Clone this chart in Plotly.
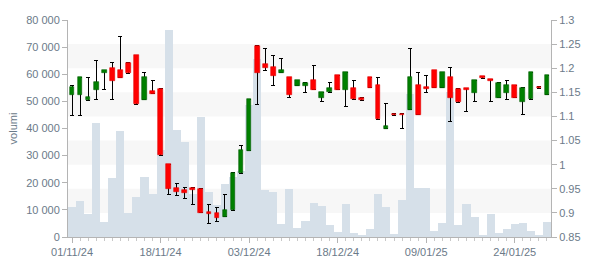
import plotly.graph_objects as go

dates = ["01/11/24","04/11/24","05/11/24","06/11/24","07/11/24","08/11/24","11/11/24","12/11/24","13/11/24","14/11/24",
         "15/11/24","18/11/24","19/11/24","20/11/24","21/11/24","22/11/24","25/11/24","26/11/24","27/11/24","28/11/24",
         "29/11/24","02/12/24","03/12/24","04/12/24","05/12/24","06/12/24","09/12/24","10/12/24","11/12/24","12/12/24",
         "13/12/24","16/12/24","17/12/24","18/12/24","19/12/24","20/12/24","23/12/24","27/12/24","30/12/24","02/01/25",
         "03/01/25","06/01/25","07/01/25","08/01/25","09/01/25","10/01/25","13/01/25","14/01/25","15/01/25","16/01/25",
         "17/01/25","20/01/25","21/01/25","22/01/25","23/01/25","24/01/25","27/01/25","28/01/25","29/01/25","30/01/25"]

volumes = [10900,13100,8400,42200,5500,21800,38900,8700,14900,22200,
           16000,32000,76400,39600,34900,16000,44400,16700,11800,19600,
           22000,24500,48500,65500,17200,16700,4700,17800,3400,5800,
           12400,11600,4400,1800,12000,1500,400,2900,16000,10900,
           1100,13500,52700,18200,18200,2200,5100,53300,4400,12000,
           7300,400,8400,1500,2900,4700,5100,2200,700,5500]

opens = [1.145,1.145,1.134,1.155,1.190,1.201,1.196,1.211,1.227,1.135,
         1.153,1.157,1.001,0.952,0.948,0.952,0.949,0.901,0.899,0.892,
         0.906,0.982,1.029,1.247,1.209,1.202,1.191,1.181,1.164,1.164,
         1.175,1.139,1.150,1.185,1.155,1.160,1.138,1.181,1.165,1.074,
         1.106,1.106,1.114,1.165,1.162,1.196,1.160,1.181,1.157,1.158,
         1.149,1.183,1.177,1.139,1.149,1.165,1.129,1.136,1.162,1.145]
highs = [1.165,1.181,1.181,1.216,1.196,1.211,1.265,1.211,1.227,1.192,
         1.175,1.157,1.001,0.960,0.952,0.953,0.950,0.917,0.911,0.939,
         0.983,1.040,1.136,1.247,1.240,1.226,1.220,1.181,1.175,1.170,
         1.205,1.150,1.170,1.185,1.192,1.175,1.139,1.181,1.181,1.126,
         1.106,1.106,1.240,1.191,1.185,1.196,1.192,1.201,1.157,1.158,
         1.175,1.183,1.177,1.170,1.175,1.165,1.160,1.192,1.162,1.185]
lows = [1.101,1.101,1.134,1.136,1.156,1.136,1.180,1.190,1.125,1.135,
        1.147,1.020,0.939,0.937,0.930,0.917,0.900,0.879,0.882,0.892,
        0.906,0.982,1.029,1.125,1.195,1.164,1.191,1.139,1.164,1.150,
        1.155,1.130,1.150,1.155,1.121,1.136,1.134,1.160,1.094,1.074,
        1.101,1.075,1.114,1.104,1.149,1.160,1.160,1.090,1.129,1.111,
        1.130,1.179,1.130,1.139,1.136,1.139,1.105,1.136,1.157,1.145]
closes = [1.161,1.181,1.140,1.171,1.196,1.174,1.180,1.190,1.125,1.181,
          1.147,1.020,0.949,0.944,0.942,0.948,0.900,0.898,0.889,0.907,
          0.983,1.030,1.136,1.190,1.200,1.183,1.196,1.145,1.175,1.170,
          1.155,1.150,1.160,1.155,1.192,1.136,1.134,1.160,1.094,1.081,
          1.102,1.102,1.181,1.104,1.157,1.160,1.192,1.139,1.129,1.154,
          1.175,1.179,1.173,1.170,1.165,1.139,1.160,1.192,1.158,1.185]

label_every = 11
vol_ticks = [0, 10000, 20000, 30000, 40000, 50000, 60000, 70000, 80000]
vol_labels = ["0", "10 000", "20 000", "30 000", "40 000", "50 000", "60 000", "70 000", "80 000"]
price_ticks = [0.85, 0.9, 0.95, 1.0, 1.05, 1.1, 1.15, 1.2, 1.25, 1.3]
price_labels = ["0.85", "0.9", "0.95", "1", "1.05", "1.1", "1.15", "1.2", "1.25", "1.3"]

GREEN, GREEN_LINE = "#008000", "#005c00"
RED, RED_LINE = "#ff0000", "#e00000"
TXT = "#6b7a89"
AX = "#b4b4b4"

n = len(dates)
xs = list(range(n))
up = [c >= o for o, c in zip(opens, closes)]
body_base = [min(o, c) for o, c in zip(opens, closes)]
body_size = [abs(c - o) for o, c in zip(opens, closes)]

fig = go.Figure()

fig.add_trace(go.Bar(x=xs, y=volumes, width=1.0, marker=dict(color="#d6e0e9", line=dict(width=0)),
                     yaxis="y", hoverinfo="skip", showlegend=False))

# wicks: transparent bars up to the high with error bars down to the low
fig.add_trace(go.Bar(x=xs, y=highs, width=0.1, marker=dict(color="rgba(0,0,0,0)", line=dict(width=0)),
                     yaxis="y2", showlegend=False, hoverinfo="skip",
                     error_y=dict(type="data", symmetric=False, array=[0] * n,
                                  arrayminus=[h - l for h, l in zip(highs, lows)],
                                  color="#000000", thickness=1, width=2)))

fig.add_trace(go.Bar(x=xs, y=body_size, base=body_base, width=0.58, yaxis="y2", showlegend=False,
                     marker=dict(color=[GREEN if u else RED for u in up],
                                 line=dict(color=[GREEN_LINE if u else RED_LINE for u in up], width=0.6))))

shapes = []
for k in range(1, len(price_ticks) - 1, 2):
    shapes.append(dict(type="rect", xref="paper", x0=0, x1=1, yref="y2",
                       y0=price_ticks[k], y1=price_ticks[k + 1],
                       fillcolor="#f7f7f7", line=dict(width=0), layer="below"))

font = dict(family="Liberation Sans, Arial, sans-serif", size=11, color=TXT)

fig.update_layout(
    width=600, height=270,
    margin=dict(l=61, r=49, t=20, b=30),
    paper_bgcolor="white", plot_bgcolor="white",
    barmode="overlay", bargap=0,
    font=font, shapes=shapes, showlegend=False,
    xaxis=dict(range=[-0.5, n - 0.5], tickvals=xs[::label_every], ticktext=dates[::label_every],
               ticks="outside", ticklen=5, tickcolor=AX, showline=True, linecolor=AX,
               showgrid=False, zeroline=False, tickfont=font,
               minor=dict(tickvals=xs, ticks="outside", ticklen=3, tickcolor="#c8c8c8", showgrid=False)),
    yaxis=dict(range=[0, 80000], tickvals=vol_ticks, ticktext=vol_labels,
               ticks="outside", ticklen=5, tickcolor=AX, showline=True, linecolor=AX,
               showgrid=False, zeroline=False, tickfont=font,
               title=dict(text="volumi", font=font, standoff=6)),
    yaxis2=dict(range=[0.85, 1.3], tickvals=price_ticks, ticktext=price_labels, overlaying="y", side="right",
                ticks="outside", ticklen=5, tickcolor=AX, showline=True, linecolor=AX,
                showgrid=False, zeroline=False, tickfont=font),
)

fig.write_html("out.html")
